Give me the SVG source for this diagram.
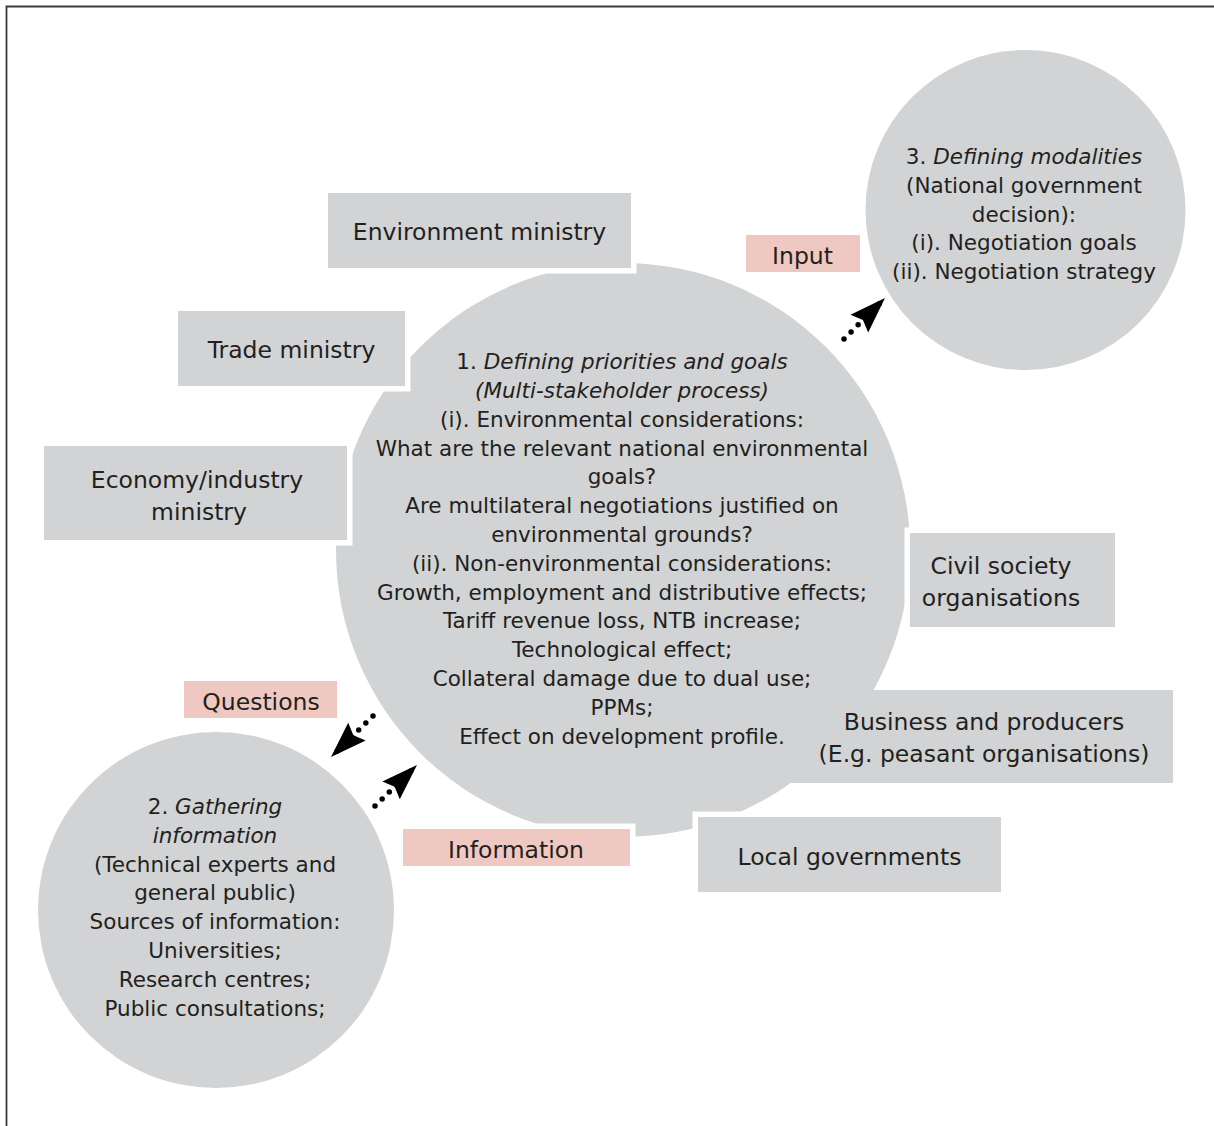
<svg xmlns="http://www.w3.org/2000/svg" width="1214" height="1126" viewBox="0 0 1214 1126">
<style>
.bg{fill:#fff}
.circ{fill:#d1d3d4}
.box{fill:#d1d3d4;stroke:#fff;stroke-width:11;paint-order:stroke}
.plain{fill:#d1d3d4}
.lbl{fill:#efc9c1}
text{font-family:"DejaVu Sans","Liberation Sans",sans-serif;fill:#231f20;text-anchor:middle}
.t{font-size:21.5px}
.b{font-size:23.5px}
.i{font-style:italic}
.dot{fill:none;stroke:#000;stroke-width:5.5;stroke-linecap:round;stroke-dasharray:0 10}
</style>
<defs>
<marker id="ah" markerUnits="userSpaceOnUse" markerWidth="40" markerHeight="30" viewBox="-30 -12 32 24" refX="0" refY="0" orient="auto">
<path d="M0,0 L-29,-10 L-25,0 L-29,10 Z" fill="#000"/>
</marker>
</defs>
<rect class="bg" x="0" y="0" width="1214" height="1126"/>
<path d="M6.5,1126 V6.5 H1214" fill="none" stroke="#3a3a3a" stroke-width="1.8"/>

<g id="node-priorities">
<circle class="circ" cx="623" cy="550" r="287"/>
<text class="t" x="622" y="369">1. <tspan class="i">Defining priorities and goals</tspan></text>
<text class="t i" x="622" y="398">(Multi-stakeholder process)</text>
<text class="t" x="622" y="427">(i). Environmental considerations:</text>
<text class="t" x="622" y="455.5">What are the relevant national environmental</text>
<text class="t" x="622" y="484">goals?</text>
<text class="t" x="622" y="513">Are multilateral negotiations justified on</text>
<text class="t" x="622" y="542">environmental grounds?</text>
<text class="t" x="622" y="571">(ii). Non-environmental considerations:</text>
<text class="t" x="622" y="599.5">Growth, employment and distributive effects;</text>
<text class="t" x="622" y="628">Tariff revenue loss, NTB increase;</text>
<text class="t" x="622" y="657">Technological effect;</text>
<text class="t" x="622" y="686">Collateral damage due to dual use;</text>
<text class="t" x="622" y="714.5">PPMs;</text>
<text class="t" x="622" y="743.5">Effect on development profile.</text>
</g>

<g id="node-modalities">
<circle class="circ" cx="1025.5" cy="210" r="160"/>
<text class="t" x="1024" y="164">3. <tspan class="i">Defining modalities</tspan></text>
<text class="t" x="1024" y="193">(National government</text>
<text class="t" x="1024" y="221.5">decision):</text>
<text class="t" x="1024" y="250">(i). Negotiation goals</text>
<text class="t" x="1024" y="279">(ii). Negotiation strategy</text>
</g>

<g id="node-gathering">
<circle class="circ" cx="216" cy="910" r="178"/>
<text class="t" x="215" y="814">2. <tspan class="i">Gathering</tspan></text>
<text class="t i" x="215" y="843">information</text>
<text class="t" x="215" y="871.5">(Technical experts and</text>
<text class="t" x="215" y="900">general public)</text>
<text class="t" x="215" y="929">Sources of information:</text>
<text class="t" x="215" y="958">Universities;</text>
<text class="t" x="215" y="987">Research centres;</text>
<text class="t" x="215" y="1015.5">Public consultations;</text>
</g>

<g id="node-environment">
<rect class="box" x="328" y="193" width="303" height="75"/>
<text class="b" x="479.5" y="239.5">Environment ministry</text>
</g>
<g id="node-trade">
<rect class="box" x="178" y="311" width="227" height="75"/>
<text class="b" x="291.5" y="357.5">Trade ministry</text>
</g>
<g id="node-economy">
<rect class="box" x="44" y="446" width="303" height="94"/>
<text class="b" x="197" y="487.5">Economy/industry</text>
<text class="b" x="199" y="519.5">ministry</text>
</g>
<g id="node-civil">
<rect class="box" x="910" y="533" width="205" height="94"/>
<text class="b" x="1001" y="573.5">Civil society</text>
<text class="b" x="1001" y="605.5">organisations</text>
</g>
<g id="node-business">
<rect class="plain" x="790" y="690" width="383" height="93"/>
<text class="b" x="984" y="729.5">Business and producers</text>
<text class="b" x="984" y="761.5">(E.g. peasant organisations)</text>
</g>
<g id="node-local">
<rect class="box" x="698" y="817" width="303" height="75"/>
<text class="b" x="849.5" y="864.5">Local governments</text>
</g>

<g id="connectors">
<line class="dot" x1="844" y1="339" x2="885" y2="298" marker-end="url(#ah)"/>
<line class="dot" x1="373" y1="716" x2="331" y2="757" marker-end="url(#ah)"/>
<line class="dot" x1="375" y1="806" x2="417" y2="765" marker-end="url(#ah)"/>
</g>

<g id="label-input">
<rect class="lbl" x="746" y="235" width="114" height="37"/>
<text class="b" x="802.5" y="263.5">Input</text>
</g>
<g id="label-questions">
<rect class="lbl" x="184" y="681" width="153" height="37"/>
<text class="b" x="261" y="709.5">Questions</text>
</g>
<g id="label-information">
<rect class="box lbl" x="403" y="829" width="227" height="37"/>
<text class="b" x="516" y="857.5">Information</text>
</g>
</svg>
